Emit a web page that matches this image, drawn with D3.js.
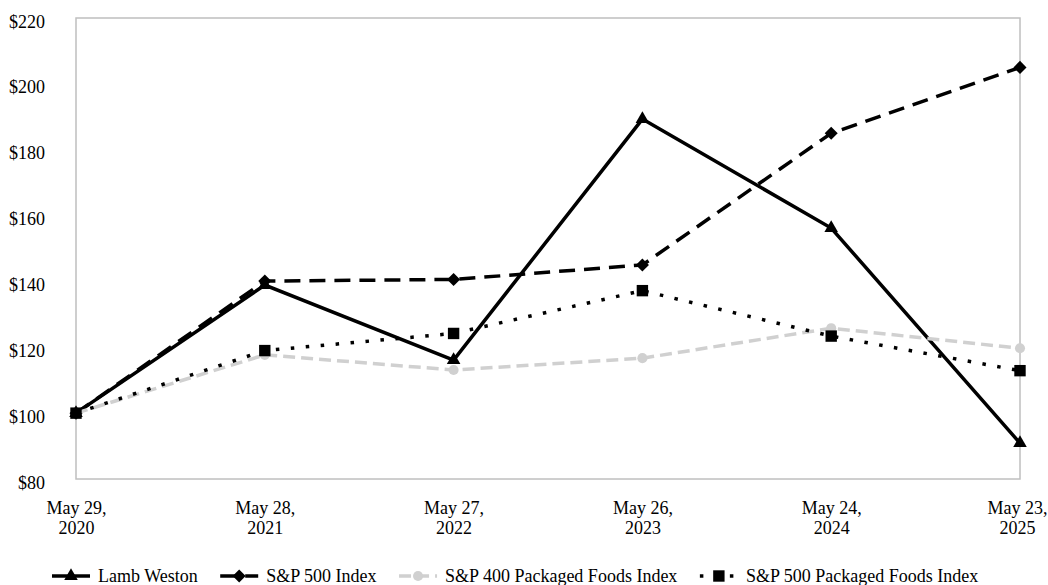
<!DOCTYPE html>
<html lang="en">
<head>
<meta charset="UTF-8">
<script src="https://cdn.jsdelivr.net/npm/d3@7"></script>
<title>Cumulative total return</title>
<style>
	body { margin: 0; background: #fff; }
	svg text { font-family: "Liberation Serif", "Times New Roman", serif; font-size: 18px; fill: #000; }
	.frame { fill: none; stroke: #bfbfbf; stroke-width: 1.5; }
</style>
</head>
<body>
<div id="chart"></div>
<script>
	// data
	const dates = ['May 29, 2020', 'May 28, 2021', 'May 27, 2022', 'May 26, 2023', 'May 24, 2024', 'May 23, 2025'];
	const lambWeston = [100, 138.9, 116.1, 189.3, 156.2, 90.9];
	const sp500 = [100, 140.1, 140.6, 145, 185, 205];
	const sp400Foods = [100, 117.7, 113.1, 116.7, 125.8, 119.7];
	const sp500Foods = [100, 119, 124.2, 137.2, 123.4, 112.9];
	const yTicks = [80, 100, 120, 140, 160, 180, 200, 220];

	const width = 1048, height = 585;
	const plotLeft = 76, plotRight = 1020, plotTop = 18, plotBottom = 479;

	const series = [
		{ name: 'Lamb Weston', values: lambWeston, color: '#000', dash: null, symbol: d3.symbolTriangle, size: 80, rot: 0 },
		{ name: 'S&P 500 Index', values: sp500, color: '#000', dash: '16,9', symbol: d3.symbolSquare, size: 85, rot: 45 },
		{ name: 'S&P 400 Packaged Foods Index', values: sp400Foods, color: '#d0d0d0', dash: '12,6', symbol: d3.symbolCircle, size: 80, rot: 0 },
		{ name: 'S&P 500 Packaged Foods Index', values: sp500Foods, color: '#000', dash: '3.5,11.5', symbol: d3.symbolSquare, size: 130, rot: 0 }
	];

	const x = d3.scalePoint().domain(dates).range([plotLeft, plotRight]);
	const y = d3.scaleLinear().domain([80, 220]).range([plotBottom, plotTop]);

	const svg = d3.select('#chart').append('svg')
		.attr('width', width)
		.attr('height', height);

	svg.append('rect')
		.attr('class', 'frame')
		.attr('x', plotLeft).attr('y', plotTop)
		.attr('width', plotRight - plotLeft).attr('height', plotBottom - plotTop);

	// y axis labels
	const yAxis = svg.append('g')
		.attr('transform', `translate(${plotLeft}, 0)`)
		.call(d3.axisLeft(y).tickValues(yTicks).tickSize(0).tickPadding(31).tickFormat(d => '$' + d));
	yAxis.select('.domain').remove();
	yAxis.selectAll('text').attr('dy', '0.5em');
	yAxis.attr('font-size', null).attr('font-family', null);

	// x axis labels, two lines each
	const xAxis = svg.append('g')
		.attr('transform', `translate(0, ${plotBottom})`)
		.call(d3.axisBottom(x).tickSize(0).tickFormat(''));
	xAxis.select('.domain').remove();
	xAxis.attr('font-size', null).attr('font-family', null);
	xAxis.selectAll('.tick').each(function(d) {
		const parts = d.split(', ');
		const t = d3.select(this).append('text').attr('text-anchor', 'middle');
		t.append('tspan').attr('x', 0).attr('y', 35).text(parts[0] + ',');
		t.append('tspan').attr('x', 0).attr('y', 55).text(parts[1]);
		// keep the last label inside the page
		const over = x(d) + t.node().getBBox().width / 2 - (width - 1);
		if (over > 0) t.attr('transform', `translate(${-over}, 0)`);
	});

	const line = d3.line()
		.x((d, i) => x(dates[i]))
		.y(d => y(d));

	series.forEach(s => {
		const g = svg.append('g');
		g.append('path')
			.datum(s.values)
			.attr('d', line)
			.attr('fill', 'none')
			.attr('stroke', s.color)
			.attr('stroke-width', 3.5)
			.attr('stroke-dasharray', s.dash);
		g.selectAll('path.mark')
			.data(s.values)
			.join('path')
			.attr('class', 'mark')
			.attr('d', d3.symbol(s.symbol, s.size))
			.attr('fill', s.color)
			.attr('transform', (d, i) => `translate(${x(dates[i])}, ${y(d)}) rotate(${s.rot})`);
	});

	// legend
	const legend = svg.append('g').attr('transform', 'translate(0, 576)');
	let lx = 52;
	series.forEach(s => {
		const item = legend.append('g').attr('transform', `translate(${lx}, 0)`);
		item.append('line')
			.attr('x1', 0).attr('x2', 38)
			.attr('y1', 0).attr('y2', 0)
			.attr('stroke', s.color)
			.attr('stroke-width', 3.5)
			.attr('stroke-dasharray', s.dash);
		item.append('path')
			.attr('d', d3.symbol(s.symbol, s.size))
			.attr('fill', s.color)
			.attr('transform', `translate(19, 0) rotate(${s.rot})`);
		const txt = item.append('text')
			.attr('x', 46)
			.attr('dy', '0.32em')
			.text(s.name);
		lx += 46 + txt.node().getComputedTextLength() + 22.5;
	});
</script>
</body>
</html>
